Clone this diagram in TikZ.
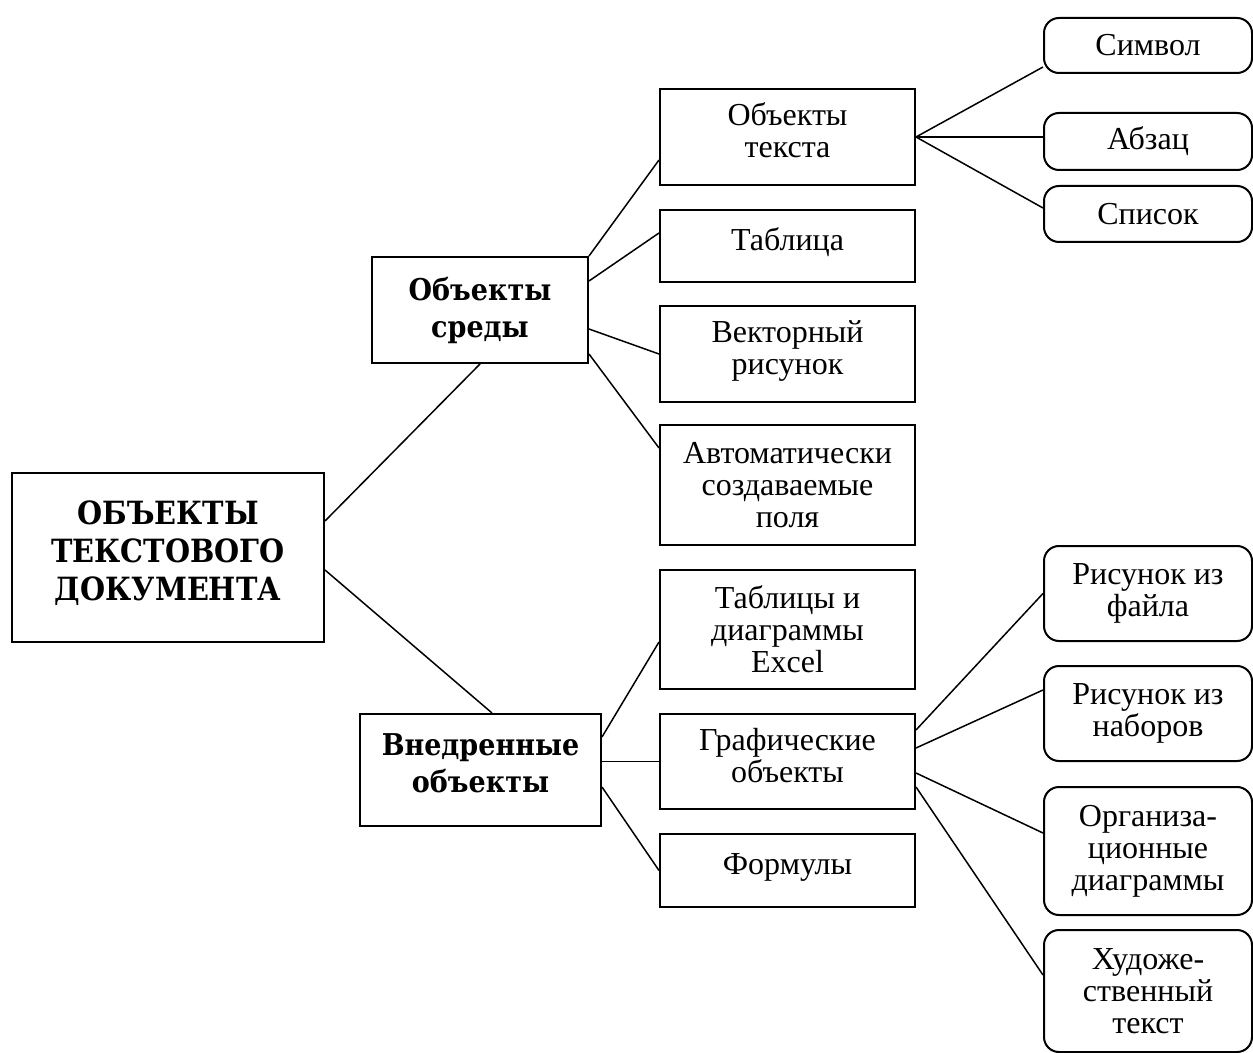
\documentclass[tikz,border=0pt]{standalone}
\usepackage{fontspec}
\setmainfont{Liberation Serif}
\newfontfamily\headfont{DejaVu Serif Condensed}
\usetikzlibrary{positioning, calc}
\tikzset{
	box/.style={draw, line width=1pt, align=center, inner sep=0pt, font=\fontsize{16}{16}\selectfont},
	rootbox/.style={box, minimum width=156pt, minimum height=84.5pt, font=\headfont\bfseries\fontsize{16}{19}\selectfont},
	headbox/.style={box, font=\headfont\bfseries\fontsize{15}{18.5}\selectfont},
	itembox/.style={box, minimum width=127.5pt},
	leafbox/.style={box, rounded corners=7.5pt, minimum width=104pt},
	toptext/.style={execute at end node={\rule[-6.5pt]{0pt}{0pt}}},
	link/.style={draw, line width=0.75pt}
}

\begin{document}
\begin{tikzpicture}[x=0.5pt, y=-0.5pt]
		\useasboundingbox (0,0) rectangle (1253,1053);
		
		% Main node
		\node[rootbox, toptext] (root) at (168,557.5) {ОБЪЕКТЫ\\ТЕКСТОВОГО\\ДОКУМЕНТА};
		
		% Two groups
		\node[headbox, minimum width=108pt, minimum height=53pt] (sreda) at (480,310) {Объекты\\среды};
		\node[headbox, toptext, minimum width=120.5pt, minimum height=56pt] (vnedr) at (480.5,770) {Внедренные\\объекты};
		
		% Middle column
		\node[itembox, toptext, minimum height=48pt] (otext) at (787.5,137) {Объекты\\текста};
		\node[itembox, toptext, minimum height=36pt] (tabl) at (787.5,246) {Таблица};
		\node[itembox, toptext, minimum height=48pt] (vect) at (787.5,354) {Векторный\\рисунок};
		\node[itembox, minimum height=60pt] (avto) at (787.5,485) {Автоматически\\создаваемые\\поля};
		\node[itembox, minimum height=59.5pt] (excel) at (787.5,629.5) {Таблицы и\\диаграммы\\Excel};
		\node[itembox, toptext, minimum height=47.5pt] (graf) at (787.5,761.5) {Графические\\объекты};
		\node[itembox, toptext, minimum height=36.5pt] (form) at (787.5,870.5) {Формулы};
		
		% Right column (rounded)
		\node[leafbox, minimum height=27.5pt] (simv) at (1148,45.5) {Символ};
		\node[leafbox, minimum height=28.5pt] (abz) at (1148,141.5) {Абзац};
		\node[leafbox, minimum height=28pt] (spis) at (1148,214) {Список};
		\node[leafbox, minimum height=47.5pt] (rfile) at (1148,593.5) {Рисунок из\\файла};
		\node[leafbox, minimum height=47.5pt] (rnab) at (1148,713.5) {Рисунок из\\наборов};
		\node[leafbox, minimum height=64pt] (org) at (1148,851) {Организа-\\ционные\\диаграммы};
		\node[leafbox, minimum height=61pt] (hud) at (1148,991) {Художе-\\ственный\\текст};
		
		% Connectors from the main node
		\draw[link] ([yshift=18.25pt]root.east) -- (sreda.south);
		\draw[link] ([yshift=-6.25pt]root.east) -- ([xshift=5.75pt]vnedr.north);
		
		% Objects of the environment
		\draw[link] (sreda.north east) -- ([yshift=-11.5pt]otext.west);
		\draw[link] ([yshift=14.5pt]sreda.east) -- ([yshift=6.5pt]tabl.west);
		\draw[link] ([yshift=-9.5pt]sreda.east) -- (vect.west);
		\draw[link] ([yshift=-22pt]sreda.east) -- ([yshift=18.5pt]avto.west);
		
		% Embedded objects
		\draw[link] ([yshift=16.5pt]vnedr.east) -- ([yshift=-6.25pt]excel.west);
		\draw[link] (vnedr.east |- graf.west) -- (graf.west);
		\draw[link] ([yshift=-8.5pt]vnedr.east) -- (form.west);
		
		% Text objects
		\draw[link] (otext.east) -- ([yshift=-10.75pt]simv.west);
		\draw[link] (otext.east) -- (abz.west |- otext.east);
		\draw[link] (otext.east) -- ([yshift=3pt]spis.west);
		
		% Graphic objects
		\draw[link] ([yshift=15.75pt]graf.east) -- (rfile.west);
		\draw[link] ([yshift=6.75pt]graf.east) -- ([yshift=11.75pt]rnab.west);
		\draw[link] ([yshift=-5.75pt]graf.east) -- ([yshift=9pt]org.west);
		\draw[link] ([yshift=-12.75pt]graf.east) -- ([yshift=8pt]hud.west);
		
\end{tikzpicture}
\end{document}
